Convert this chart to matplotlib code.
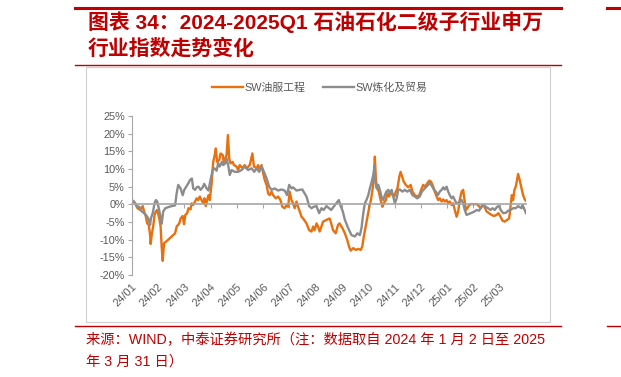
import matplotlib
matplotlib.use("Agg")
import matplotlib.pyplot as plt
from matplotlib.lines import Line2D
from matplotlib.patches import Rectangle

W, H = 621, 377
RED = "#C00000"

month_labels = ["24/01", "24/02", "24/03", "24/04", "24/05", "24/06", "24/07", "24/08",
                "24/09", "24/10", "24/11", "24/12", "25/01", "25/02", "25/03"]

# x = months since start of Jan 2024, y = cumulative change (%)
oil_x = [0.00, 0.13, 0.22, 0.32, 0.42, 0.47, 0.54, 0.59, 0.65, 0.70, 0.72, 0.77, 0.82, 0.87, 0.92,
         0.97, 1.05, 1.10, 1.14, 1.18, 1.23, 1.30, 1.39, 1.52, 1.65, 1.71, 1.81, 1.86, 1.94, 1.99,
         2.04, 2.11, 2.16, 2.24, 2.28, 2.34, 2.41, 2.47, 2.53, 2.59, 2.66, 2.72, 2.77, 2.82, 2.87,
         2.92, 2.97, 3.04, 3.10, 3.16, 3.20, 3.25, 3.33, 3.38, 3.46, 3.51, 3.56, 3.61, 3.66, 3.71,
         3.76, 3.84, 3.89, 3.99, 4.05, 4.11, 4.22, 4.30, 4.37, 4.49, 4.59, 4.65, 4.75, 4.81, 4.87,
         4.94, 5.00, 5.06, 5.13, 5.19, 5.25, 5.32, 5.38, 5.48, 5.57, 5.66, 5.73, 5.82, 5.89, 5.95,
         6.01, 6.08, 6.14, 6.20, 6.27, 6.33, 6.39, 6.46, 6.52, 6.65, 6.75, 6.84, 6.90, 6.96, 7.03,
         7.09, 7.15, 7.28, 7.41, 7.53, 7.59, 7.66, 7.76, 7.85, 7.91,
         8.02, 8.11, 8.20, 8.27, 8.33, 8.43, 8.53, 8.62, 8.71, 8.77, 8.83, 8.90, 8.97, 9.04, 9.10,
         9.16, 9.21, 9.25, 9.29, 9.34, 9.40, 9.47, 9.54, 9.59, 9.67, 9.73, 9.79, 9.85, 9.92, 9.99,
         10.05, 10.11, 10.18, 10.23, 10.29, 10.35, 10.43, 10.52, 10.61, 10.68, 10.77, 10.86, 10.94,
         11.01, 11.09, 11.16, 11.24, 11.32, 11.39, 11.47, 11.53, 11.60, 11.66, 11.72, 11.79, 11.85,
         11.91, 11.98, 12.04, 12.10, 12.17, 12.23, 12.29, 12.36, 12.42, 12.48, 12.55, 12.61, 12.66,
         12.71, 12.77, 12.84, 12.93, 13.02, 13.12, 13.21, 13.27, 13.34, 13.43, 13.50, 13.59, 13.69,
         13.78, 13.88, 13.95, 14.03, 14.10, 14.19, 14.28, 14.36, 14.41, 14.46, 14.51, 14.56, 14.61,
         14.66, 14.70, 14.76, 14.83, 14.89, 14.95, 15.00]
oil_y = [1.0, 0.3, -1.1, -1.6, -0.5, -2.0, -3.5, -5.4, -5.8, -8.7, -11.2, -8.2, -6.1, -3.0, -2.0,
         -1.6, -4.0, -6.3, -12.0, -16.0, -11.0, -10.6, -10.0, -9.1, -8.2, -6.3, -5.4, -4.0, -3.3, -5.6,
         -3.0, -2.5, -1.1, -1.4, 0.3, -0.2, 0.8, 1.7, 1.2, 2.2, 1.2, 0.3, 1.7, -0.5, 1.2,
         2.6, 1.2, 5.9, 12.0, 14.0, 15.8, 12.0, 12.5, 14.4, 14.0, 11.6, 13.0, 14.0, 19.6, 13.0,
         11.6, 12.0, 11.1, 10.7, 9.7, 11.1, 10.2, 11.1, 10.2, 11.1, 14.4, 10.7, 10.2, 11.1, 9.7,
         11.1, 8.8, 6.9, 5.5, 3.1, 2.6, 3.6, 2.6, 1.7, 2.2, 1.2, -0.7, -1.1, -0.2, -0.7,
         3.6, 1.2, 0.3, -1.1, 0.8, -0.7, -2.0, -3.5, -4.0, -5.4, -7.3, -7.7, -6.3, -7.3, -5.4,
         -6.3, -7.7, -4.9, -4.4, -4.0, -5.4, -7.3, -8.2, -5.8, -5.4,
         -6.8, -8.2, -10.1, -12.0, -13.1, -12.4, -12.9, -12.6, -12.9, -12.0, -9.1, -6.3, -3.5, -0.7, 1.2,
         4.1, 6.9, 13.5, 6.9, 4.5, 3.6, 1.2, -0.7, 0.3, 1.2, 3.1, 2.2, 3.6, 2.6, 2.2,
         3.6, 4.5, 7.8, 9.2, 7.8, 6.4, 5.5, 4.8, 5.5, 3.6, 2.6, 2.2, 2.6,
         4.1, 5.5, 5.0, 5.9, 6.7, 6.4, 5.0, 3.6, 2.2, 1.2, 1.7, 0.8,
         1.4, 0.8, 1.2, 0.3, 0.8, -0.2, 0.3, -1.6, -3.5, -2.0, 1.2, 3.6, 4.1,
         1.2, -1.6, -1.1, -0.2, 0.1, 0.0, 0.1, -0.5, -1.1, -0.2, -0.8, -2.0, -2.5,
         -3.0, -3.3, -3.0, -2.5, -3.5, -4.6, -4.9, -4.4, -4.0, -0.7, 2.6, 1.2, 4.1,
         5.0, 6.9, 8.6, 6.9, 4.5, 2.6, 1.4, 1.0]

refine_x = [0.00, 0.09, 0.19, 0.29, 0.38, 0.47, 0.54, 0.59, 0.65, 0.70, 0.73, 0.80, 0.87, 0.92, 0.97,
            1.03, 1.08, 1.14, 1.20, 1.28, 1.39, 1.52, 1.65, 1.71, 1.77, 1.86, 1.94, 2.00, 2.06, 2.15,
            2.22, 2.29, 2.34, 2.41, 2.47, 2.54, 2.62, 2.70, 2.76, 2.85, 2.92, 3.00, 3.08, 3.15, 3.23,
            3.29, 3.35, 3.43, 3.48, 3.56, 3.61, 3.68, 3.73, 3.80, 3.92, 4.05, 4.18, 4.30, 4.43, 4.56,
            4.66, 4.75, 4.85, 4.94, 5.03, 5.13, 5.23, 5.32, 5.44, 5.57, 5.70, 5.82, 5.91, 5.99, 6.08,
            6.14, 6.27, 6.39, 6.49, 6.58, 6.65, 6.75, 6.84, 6.92, 7.03, 7.13, 7.22, 7.30, 7.41, 7.51,
            7.59, 7.68, 7.78, 7.88, 7.95, 8.03,
            8.11, 8.24, 8.36, 8.49, 8.58, 8.68, 8.74, 8.81, 8.87, 8.93, 9.00, 9.06, 9.13, 9.19, 9.24,
            9.26, 9.32, 9.38, 9.44, 9.50, 9.57, 9.63, 9.69, 9.76, 9.82, 9.89, 9.95, 10.01, 10.08, 10.14,
            10.20, 10.30, 10.39, 10.48, 10.58, 10.68, 10.77, 10.86, 10.96, 11.04, 11.11, 11.19, 11.28,
            11.34, 11.42, 11.50, 11.57, 11.65, 11.72, 11.79, 11.85, 11.91, 11.98, 12.04, 12.10, 12.17,
            12.23, 12.29, 12.36, 12.42, 12.48, 12.55, 12.61, 12.67, 12.74, 12.84, 12.93, 13.02, 13.12,
            13.21, 13.31, 13.40, 13.47, 13.56, 13.65, 13.73, 13.81, 13.90, 13.97, 14.04, 14.13, 14.23,
            14.32, 14.41, 14.51, 14.61, 14.70, 14.76, 14.83, 14.87, 14.92, 15.00]
refine_y = [1.2, 0.8, -0.5, -0.7, -2.0, -2.5, -3.0, -3.5, -4.4, -5.8, -4.0, -2.5, 0.3, 1.2, 0.8,
            -1.1, -3.0, -5.5, -2.0, -1.1, -0.8, -0.5, -0.3, 3.1, 5.5, 4.5, 2.6, 4.1, 4.8, 5.9,
            6.9, 7.3, 4.5, 4.1, 4.8, 5.0, 4.1, 4.8, 5.8, 4.5, 3.9, 6.9, 9.7, 10.2, 9.5,
            11.6, 10.7, 12.0, 11.1, 11.6, 13.0, 10.7, 8.3, 9.7, 9.2, 9.2, 9.7, 10.7, 9.7, 10.2,
            9.2, 10.2, 9.2, 10.7, 9.2, 7.4, 5.0, 4.1, 4.5, 3.9, 4.2, 3.9, 2.6, 5.5, 4.5,
            4.8, 3.9, 4.1, 4.2, 3.1, 2.2, -0.5, -1.1, -0.7, -0.5, -2.5, -1.1, -1.6, -0.5, -1.1,
            -1.6, -0.7, 0.3, 1.2, -0.5, -2.0,
            -4.4, -6.8, -8.7, -9.1, -8.2, -8.7, -6.8, -2.5, 0.3, 1.2, 2.6, 4.5, 6.4, 8.3, 11.0,
            6.9, 4.5, 5.5, 4.1, 2.2, 1.2, 2.6, 3.6, 4.1, 3.1, 4.1, 2.2, 0.3, 1.7, 4.1,
            4.2, 3.6, 4.1, 3.6, 4.1, 2.6, 2.2, 1.7, 2.2, 3.6, 4.2, 4.8, 5.5,
            6.1, 5.2, 4.1, 3.6, 2.6, 3.6, 4.1, 4.8, 4.2, 5.0, 3.6, 2.6, 1.7,
            2.2, 1.2, 0.3, 0.3, 0.8, 1.2, 0.3, -1.6, -3.0, -2.7, -2.4, -2.1, -1.6,
            -1.8, -0.7, -0.2, -0.7, -1.1, -1.6, -1.1, -1.6, -0.7, -0.5, -1.6, -2.5, -2.4,
            -1.8, -1.6, -1.1, -1.1, -0.5, -0.8, -1.1, -0.2, -1.1, -2.5]

plt.rcParams["font.family"] = ["Liberation Sans", "Noto Sans CJK SC"]

fig = plt.figure(figsize=(W / 100, H / 100), dpi=100)


def fx(px):
    return px / W


def fy(py):
    return 1 - py / H


# frame decorations of the report page
fig.add_artist(Line2D([fx(75), fx(561)], [fy(8), fy(8)], color=RED, lw=2.2))
fig.add_artist(Line2D([fx(607), fx(621)], [fy(8), fy(8)], color=RED, lw=2.2))
fig.add_artist(Line2D([fx(75), fx(561)], [fy(64.5), fy(64.5)], color=RED, lw=1.0))
fig.add_artist(Line2D([fx(75), fx(561)], [fy(326), fy(326)], color=RED, lw=1.0))
fig.add_artist(Line2D([fx(607), fx(621)], [fy(326), fy(326)], color=RED, lw=1.0))
fig.add_artist(Rectangle((fx(86), fy(322)), fx(550) - fx(86), fy(67) - fy(322),
                         fill=False, edgecolor="#D0D0D0", lw=0.8))

fig.text(fx(88), fy(22), "图表 34：2024-2025Q1 石油石化二级子行业申万", color=RED,
         fontsize=15, fontweight="bold", va="center", ha="left")
fig.text(fx(88), fy(48), "行业指数走势变化", color=RED,
         fontsize=15, fontweight="bold", va="center", ha="left")
fig.text(fx(86), fy(340), "来源：WIND，中泰证券研究所（注：数据取自 2024 年 1 月 2 日至 2025",
         color=RED, fontsize=10.3, va="center", ha="left")
fig.text(fx(86), fy(362), "年 3 月 31 日）", color=RED, fontsize=10.3, va="center", ha="left")

ax = fig.add_axes([fx(131.7), fy(275), fx(526) - fx(131.7), fy(116) - fy(275)])
ax.plot(oil_x, oil_y, color="#E8700F", lw=1.7, label="SW油服工程")
ax.plot(refine_x, refine_y, color="#8C8C8C", lw=1.7, label="SW炼化及贸易")

ax.set_xlim(0, 15)
ax.set_ylim(-20, 25)
ax.set_yticks(range(-20, 26, 5))
ax.set_yticklabels([f"{v}%" for v in range(-20, 26, 5)])

axis_grey = "#A6A6A6"
for s in ["top", "right"]:
    ax.spines[s].set_visible(False)
ax.spines["left"].set_color(axis_grey)
ax.spines["bottom"].set_position(("data", 0))
ax.spines["bottom"].set_color(axis_grey)
ax.spines["bottom"].set_linewidth(1.2)
ax.set_xticks(range(0, 15))
ax.tick_params(axis="x", direction="out", length=3, color=axis_grey, labelbottom=False)
ax.tick_params(axis="y", direction="out", length=3, color=axis_grey,
               labelsize=7.8, labelcolor="#595959", pad=2)

sec = ax.secondary_xaxis(0.0)
sec.set_xticks(range(0, 15))
sec.set_xticklabels(month_labels, rotation=45, ha="right", rotation_mode="anchor",
                    fontsize=8, color="#595959")
sec.tick_params(length=0, pad=5)
sec.spines["bottom"].set_visible(False)

ax.legend(loc="center", bbox_to_anchor=(fx(320), fy(88)), bbox_transform=fig.transFigure,
          ncol=2, frameon=False, fontsize=7.8, handlelength=2.8, handletextpad=0.2,
          columnspacing=1.6, labelcolor="#595959")

fig.savefig("out.png", dpi=100)
